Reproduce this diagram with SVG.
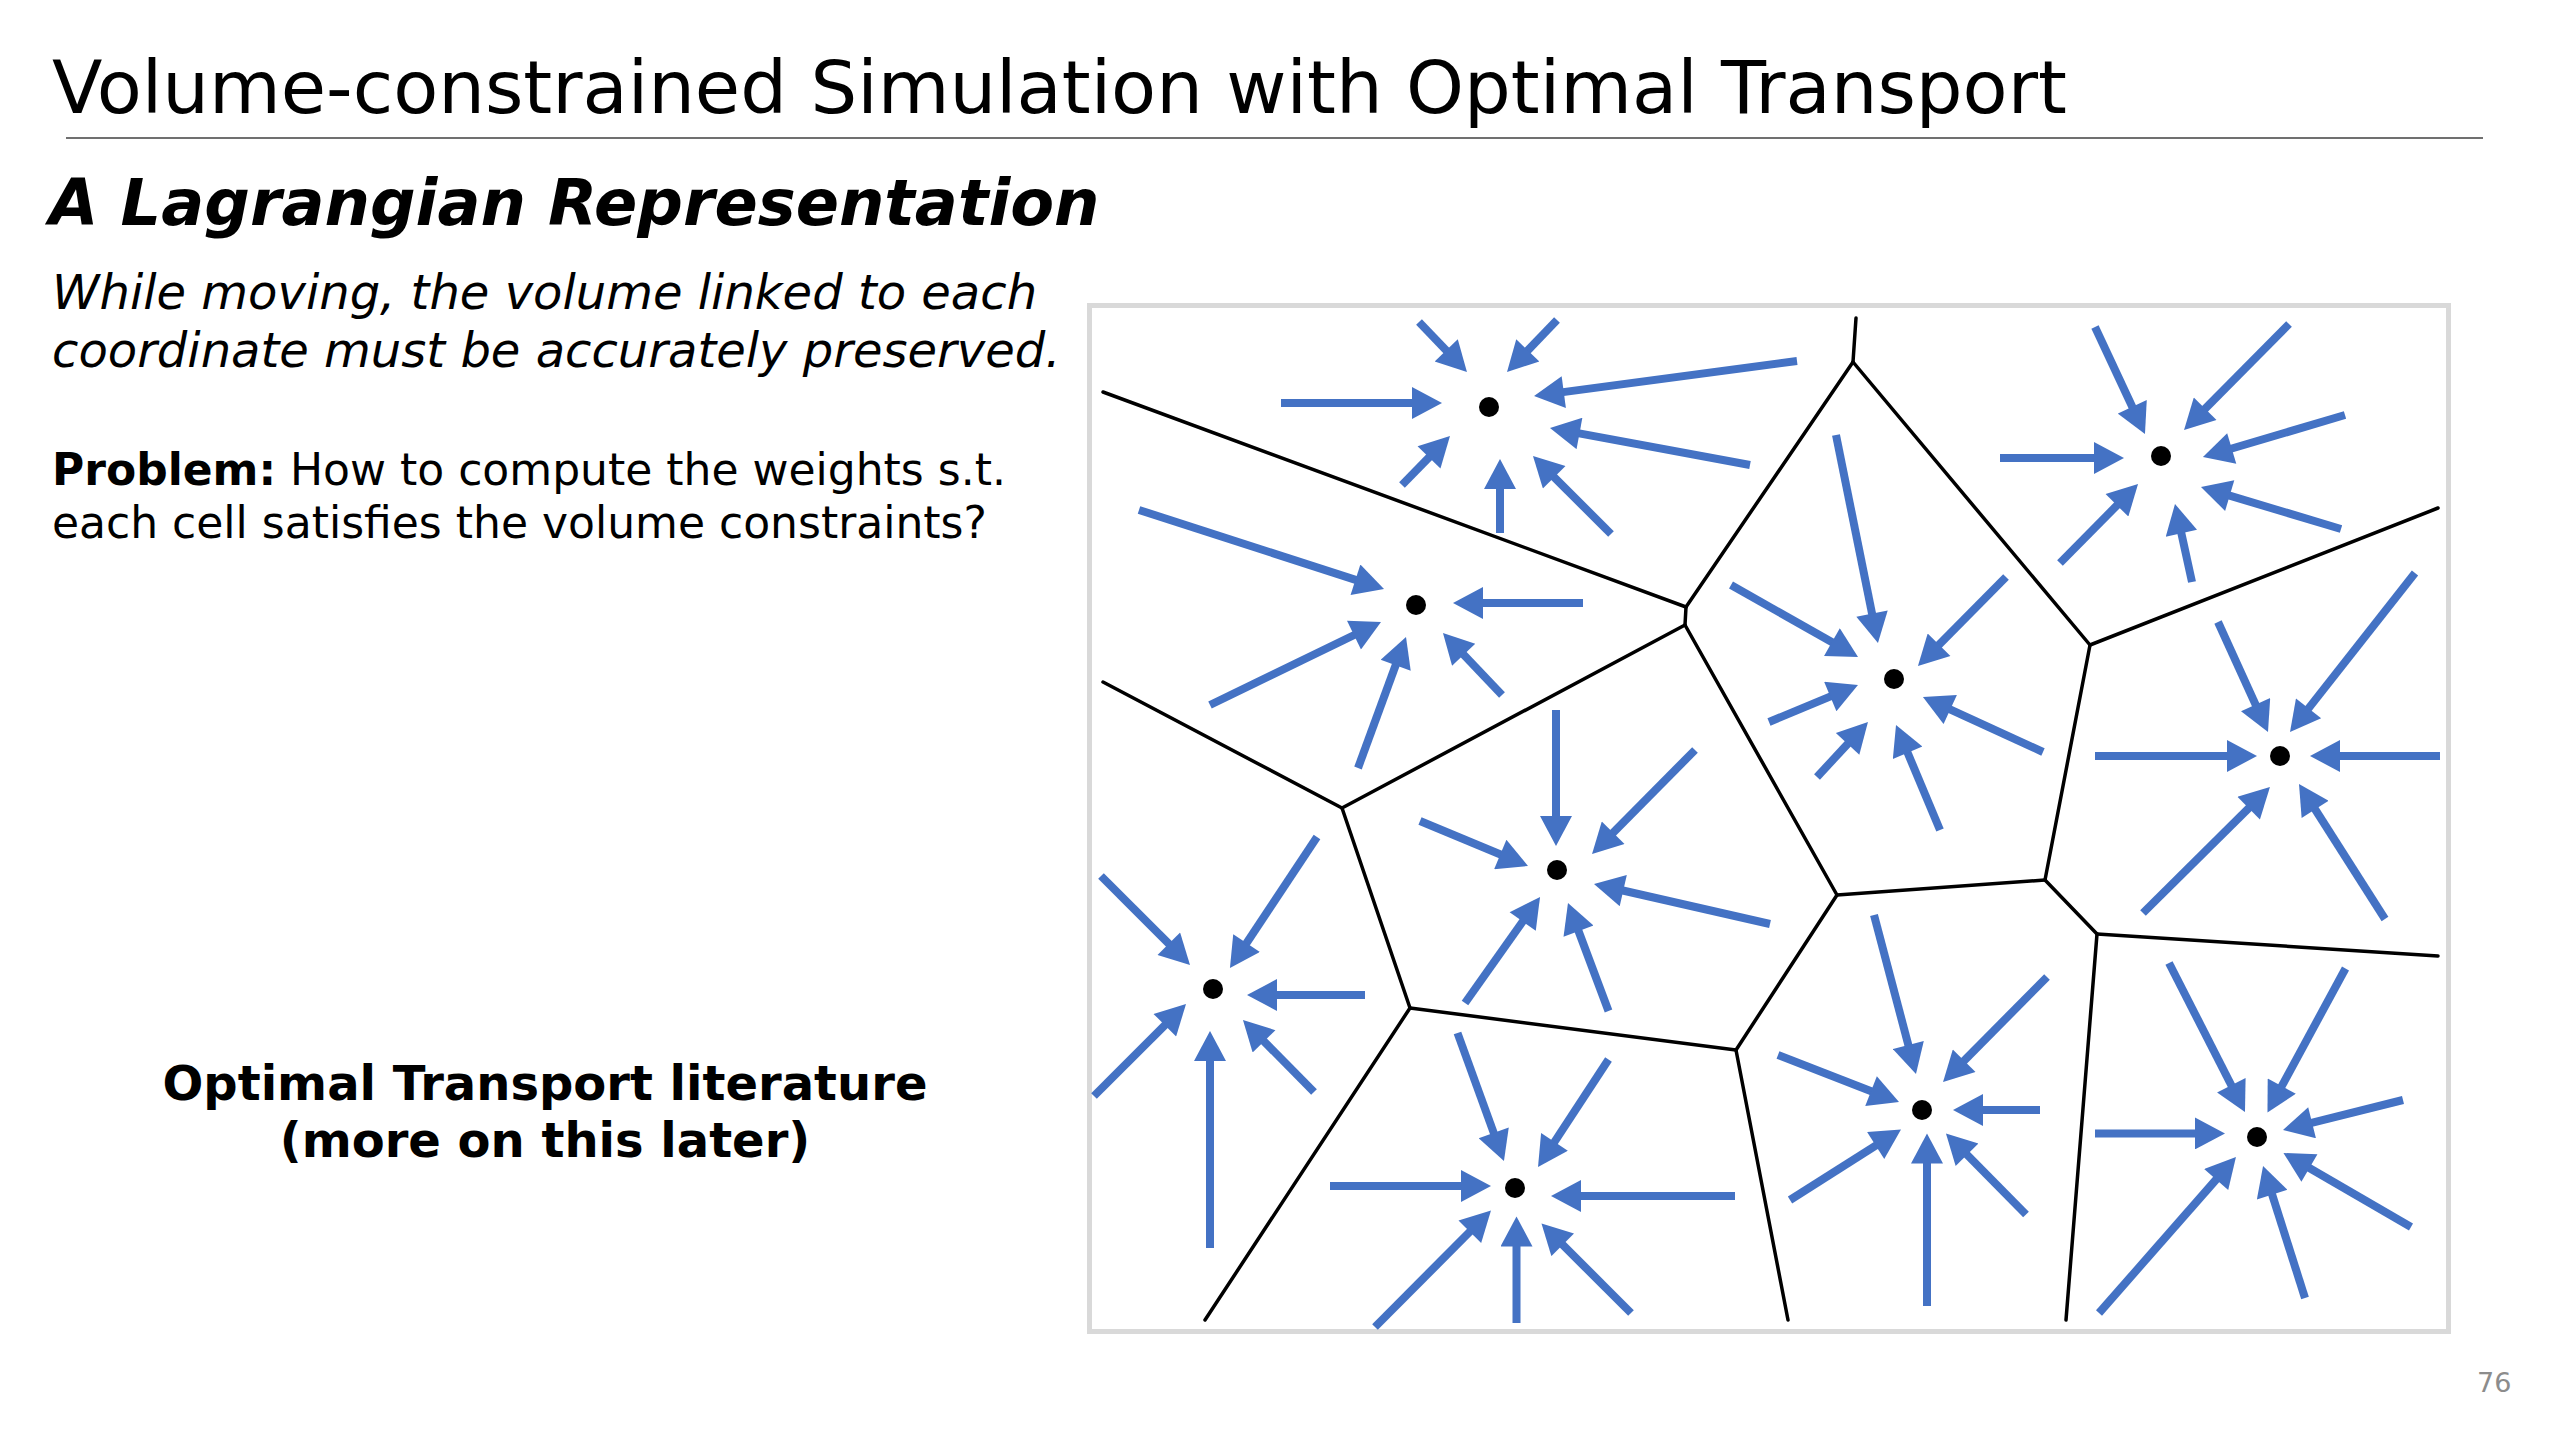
<svg xmlns="http://www.w3.org/2000/svg" width="2560" height="1440" viewBox="0 0 2560 1440">
<defs>
<style>
.t{font-family:"DejaVu Sans","Verdana",sans-serif;fill:#000}
.edge{stroke:#000;stroke-width:3.5;fill:none;stroke-linecap:round;stroke-linejoin:round}
.ar{stroke:#4472C4;stroke-width:8;fill:none;marker-end:url(#ah)}
.dot{fill:#000}
</style>
<marker id="ah" markerUnits="strokeWidth" markerWidth="4" markerHeight="4" viewBox="0 0 3.75 4" refX="1.75" refY="2" orient="auto">
<path d="M0,0 L3.75,2 L0,4 z" fill="#4472C4"/>
</marker>
</defs>
<rect width="2560" height="1440" fill="#fff"/>
<g id="header">
<text class="t" x="52" y="113" font-size="73.7">Volume-constrained Simulation with Optimal Transport</text>
<line x1="66" y1="138" x2="2483" y2="138" stroke="#404040" stroke-width="1.5"/>
<text class="t" x="49" y="225" font-size="63.8" font-weight="bold" font-style="italic">A Lagrangian Representation</text>
</g>
<g id="body-text">
<text class="t" x="52" y="309" font-size="48" font-style="italic">While moving, the volume linked to each</text>
<text class="t" x="52" y="367" font-size="48" font-style="italic">coordinate must be accurately preserved.</text>
<text class="t" x="52" y="485" font-size="44"><tspan font-weight="bold">Problem:</tspan> How to compute the weights s.t.</text>
<text class="t" x="52" y="538" font-size="44">each cell satisfies the volume constraints?</text>
<text class="t" x="545" y="1100" font-size="48" font-weight="bold" text-anchor="middle">Optimal Transport literature</text>
<text class="t" x="545" y="1157" font-size="48" font-weight="bold" text-anchor="middle">(more on this later)</text>
<text x="2477" y="1392" font-size="27" font-family="'DejaVu Sans',sans-serif" fill="#8c8c8c">76</text>
</g>
<rect id="frame" x="1089.5" y="305.5" width="1359" height="1026" fill="#fff" stroke="#d9d9d9" stroke-width="5"/>
<g id="edges">
<line class="edge" x1="1103" y1="392" x2="1686" y2="607"/>
<line class="edge" x1="1686" y1="607" x2="1685" y2="625"/>
<line class="edge" x1="1686" y1="607" x2="1853" y2="362"/>
<line class="edge" x1="1853" y1="362" x2="1856" y2="318"/>
<line class="edge" x1="1853" y1="362" x2="2090" y2="645"/>
<line class="edge" x1="2090" y1="645" x2="2438" y2="508"/>
<line class="edge" x1="2090" y1="645" x2="2045" y2="880"/>
<line class="edge" x1="2045" y1="880" x2="1837" y2="895"/>
<line class="edge" x1="2045" y1="880" x2="2097" y2="934"/>
<line class="edge" x1="2097" y1="934" x2="2438" y2="956"/>
<line class="edge" x1="2097" y1="934" x2="2066" y2="1320"/>
<line class="edge" x1="1685" y1="625" x2="1837" y2="895"/>
<line class="edge" x1="1837" y1="895" x2="1736" y2="1050"/>
<line class="edge" x1="1736" y1="1050" x2="1788" y2="1320"/>
<line class="edge" x1="1736" y1="1050" x2="1410" y2="1008"/>
<line class="edge" x1="1410" y1="1008" x2="1205" y2="1320"/>
<line class="edge" x1="1410" y1="1008" x2="1342" y2="808"/>
<line class="edge" x1="1342" y1="808" x2="1685" y2="625"/>
<line class="edge" x1="1342" y1="808" x2="1103" y2="682"/>
</g>
<g id="site1">
<line class="ar" x1="1419" y1="322" x2="1455.9" y2="360.5"/>
<line class="ar" x1="1557" y1="320" x2="1518.1" y2="360.5"/>
<line class="ar" x1="1797" y1="361" x2="1549.9" y2="393.9"/>
<line class="ar" x1="1281" y1="403" x2="1426" y2="403"/>
<line class="ar" x1="1750" y1="465" x2="1565.7" y2="430.9"/>
<line class="ar" x1="1402" y1="485" x2="1438.8" y2="447.4"/>
<line class="ar" x1="1500" y1="533" x2="1500" y2="475"/>
<line class="ar" x1="1611" y1="534" x2="1544.3" y2="467.3"/>
<circle class="dot" cx="1489" cy="407" r="10"/>
</g>
<g id="site2">
<line class="ar" x1="1139" y1="510" x2="1368.8" y2="584.1"/>
<line class="ar" x1="1583" y1="603" x2="1469" y2="603"/>
<line class="ar" x1="1210" y1="705" x2="1366.6" y2="629"/>
<line class="ar" x1="1358" y1="768" x2="1400.5" y2="652"/>
<line class="ar" x1="1502" y1="695" x2="1454" y2="644.6"/>
<circle class="dot" cx="1416" cy="605" r="10"/>
</g>
<g id="site3">
<line class="ar" x1="1836" y1="435" x2="1874.8" y2="627.3"/>
<line class="ar" x1="2006" y1="577" x2="1929.2" y2="654.6"/>
<line class="ar" x1="2043" y1="752" x2="1937.5" y2="703.7"/>
<line class="ar" x1="1731" y1="585" x2="1844.1" y2="649.1"/>
<line class="ar" x1="1769" y1="722" x2="1843.2" y2="691.1"/>
<line class="ar" x1="1817" y1="777" x2="1857.1" y2="733.7"/>
<line class="ar" x1="1940" y1="830" x2="1902.2" y2="739.8"/>
<circle class="dot" cx="1894" cy="679" r="10"/>
</g>
<g id="site4">
<line class="ar" x1="2095" y1="327" x2="2138.2" y2="419.5"/>
<line class="ar" x1="2289" y1="324" x2="2195.3" y2="418.6"/>
<line class="ar" x1="2345" y1="415" x2="2218.3" y2="452.5"/>
<line class="ar" x1="2000" y1="458" x2="2108" y2="458"/>
<line class="ar" x1="2341" y1="529" x2="2216.3" y2="491.6"/>
<line class="ar" x1="2060" y1="563" x2="2126.8" y2="495.4"/>
<line class="ar" x1="2192" y1="582" x2="2178.4" y2="519.6"/>
<circle class="dot" cx="2161" cy="456" r="10"/>
</g>
<g id="site5">
<line class="ar" x1="2095" y1="756" x2="2241" y2="756"/>
<line class="ar" x1="2440" y1="756" x2="2326" y2="756"/>
<line class="ar" x1="2143" y1="913" x2="2258.6" y2="798.3"/>
<line class="ar" x1="2385" y1="919" x2="2307.6" y2="797.5"/>
<line class="ar" x1="2218" y1="622" x2="2261.4" y2="717.4"/>
<line class="ar" x1="2415" y1="573" x2="2299.9" y2="719.4"/>
<circle class="dot" cx="2280" cy="756" r="10"/>
</g>
<g id="site6">
<line class="ar" x1="1556" y1="710" x2="1556" y2="830"/>
<line class="ar" x1="1695" y1="750" x2="1603.3" y2="842.6"/>
<line class="ar" x1="1420" y1="821" x2="1513.2" y2="859.8"/>
<line class="ar" x1="1770" y1="924" x2="1609.6" y2="887.5"/>
<line class="ar" x1="1465" y1="1003" x2="1530.8" y2="910.1"/>
<line class="ar" x1="1608.5" y1="1011" x2="1573.6" y2="918"/>
<circle class="dot" cx="1557" cy="870" r="10"/>
</g>
<g id="site7">
<line class="ar" x1="1101" y1="876" x2="1178.7" y2="953.7"/>
<line class="ar" x1="1317" y1="837" x2="1238.8" y2="954.7"/>
<line class="ar" x1="1365" y1="995" x2="1263" y2="995"/>
<line class="ar" x1="1094" y1="1096" x2="1174.7" y2="1015.3"/>
<line class="ar" x1="1210" y1="1248" x2="1210" y2="1047"/>
<line class="ar" x1="1314" y1="1092" x2="1254.2" y2="1031.4"/>
<circle class="dot" cx="1213" cy="989" r="10"/>
</g>
<g id="site8">
<line class="ar" x1="1457.5" y1="1033" x2="1498.5" y2="1146"/>
<line class="ar" x1="1608.5" y1="1059.5" x2="1546.8" y2="1153.6"/>
<line class="ar" x1="1330" y1="1186" x2="1475" y2="1186"/>
<line class="ar" x1="1735" y1="1196" x2="1567" y2="1196"/>
<line class="ar" x1="1375" y1="1327" x2="1479.7" y2="1221.8"/>
<line class="ar" x1="1516.5" y1="1323" x2="1516.5" y2="1232.5"/>
<line class="ar" x1="1631" y1="1313" x2="1552.8" y2="1234.9"/>
<circle class="dot" cx="1515" cy="1188" r="10"/>
</g>
<g id="site9">
<line class="ar" x1="1874" y1="915" x2="1911.9" y2="1058.5"/>
<line class="ar" x1="2047" y1="977" x2="1954.3" y2="1070.6"/>
<line class="ar" x1="1778" y1="1055" x2="1884.1" y2="1096.2"/>
<line class="ar" x1="2040" y1="1110" x2="1969" y2="1110"/>
<line class="ar" x1="1790" y1="1200" x2="1887.5" y2="1138.1"/>
<line class="ar" x1="1927" y1="1306" x2="1927" y2="1149.4"/>
<line class="ar" x1="2026" y1="1214.5" x2="1957.2" y2="1144.8"/>
<circle class="dot" cx="1922" cy="1110" r="10"/>
</g>
<g id="site10">
<line class="ar" x1="2169" y1="963" x2="2237.7" y2="1097.7"/>
<line class="ar" x1="2345.5" y1="968.5" x2="2275.1" y2="1098.4"/>
<line class="ar" x1="2095" y1="1133.4" x2="2209" y2="1133.4"/>
<line class="ar" x1="2403" y1="1100" x2="2298.5" y2="1126.1"/>
<line class="ar" x1="2099" y1="1313" x2="2225.4" y2="1169"/>
<line class="ar" x1="2305" y1="1298" x2="2267.9" y2="1181.2"/>
<line class="ar" x1="2411" y1="1227" x2="2297.3" y2="1161"/>
<circle class="dot" cx="2257" cy="1137" r="10"/>
</g>
</svg>
